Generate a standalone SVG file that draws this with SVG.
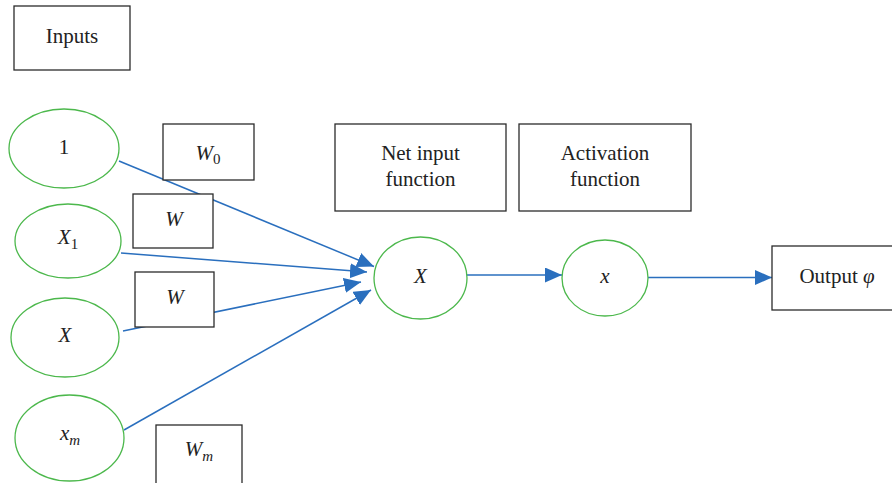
<svg xmlns="http://www.w3.org/2000/svg" width="892" height="483" viewBox="0 0 892 483">
  <style>
    .box { fill: #ffffff; stroke: #2b2b2b; stroke-width: 1.3; }
    .neuron { fill: #ffffff; stroke: #4cb84c; stroke-width: 1.3; }
    .edge { fill: none; stroke: #2a6fbe; stroke-width: 1.5; marker-end: url(#arrow); }
    text { font-family: "Liberation Serif", "Times New Roman", serif; font-size: 21px; fill: #222222; text-anchor: middle; }
    .it { font-style: italic; }
    .sub { font-size: 15px; }
  </style>
  <defs>
    <marker id="arrow" markerUnits="userSpaceOnUse" markerWidth="18" markerHeight="16" refX="17" refY="7.5" orient="auto">
      <path d="M0,0 L17,7.5 L0,15 z" fill="#2a6fbe"/>
    </marker>
  </defs>

  <!-- connectors (drawn first so that the weight boxes sit on top) -->
  <g id="connectors">
    <line class="edge" x1="119" y1="161" x2="374" y2="266.5"/>
    <line class="edge" x1="121" y1="253" x2="367" y2="272"/>
    <line class="edge" x1="123" y1="331" x2="361" y2="282"/>
    <line class="edge" x1="124" y1="430" x2="371" y2="290"/>
    <line class="edge" x1="467" y1="275" x2="562" y2="275"/>
    <line class="edge" x1="648" y1="277.5" x2="772" y2="277.5"/>
  </g>

  <g id="inputs-label">
    <rect class="box" x="14" y="6" width="116" height="64"/>
    <text x="72" y="43">Inputs</text>
  </g>

  <g id="input-1">
    <ellipse class="neuron" cx="64" cy="148.5" rx="55" ry="39.5"/>
    <text x="64" y="154">1</text>
  </g>
  <g id="input-x1">
    <ellipse class="neuron" cx="68" cy="241" rx="53" ry="37"/>
    <text x="68" y="244"><tspan class="it">X</tspan><tspan class="sub" dy="5">1</tspan></text>
  </g>
  <g id="input-x">
    <ellipse class="neuron" cx="65" cy="337.5" rx="54" ry="39.5"/>
    <text class="it" x="65" y="342">X</text>
  </g>
  <g id="input-xm">
    <ellipse class="neuron" cx="69.5" cy="438" rx="54.5" ry="43"/>
    <text class="it" x="70" y="440">x<tspan class="sub" dy="5">m</tspan></text>
  </g>

  <g id="weight-w0">
    <rect class="box" x="163" y="124" width="91" height="56"/>
    <text x="208" y="160"><tspan class="it">W</tspan><tspan class="sub" dy="4">0</tspan></text>
  </g>
  <g id="weight-w1">
    <rect class="box" x="133" y="194" width="80" height="54"/>
    <text class="it" x="174" y="226">W</text>
  </g>
  <g id="weight-w2">
    <rect class="box" x="135" y="272" width="79" height="55"/>
    <text class="it" x="175" y="304">W</text>
  </g>
  <g id="weight-wm">
    <rect class="box" x="156" y="425" width="86" height="70"/>
    <text class="it" x="199" y="456">W<tspan class="sub" dy="5">m</tspan></text>
  </g>

  <g id="net-input-label">
    <rect class="box" x="335" y="124" width="171" height="87"/>
    <text x="420.5" y="160">Net input</text>
    <text x="420.5" y="186">function</text>
  </g>
  <g id="activation-label">
    <rect class="box" x="519" y="124" width="172" height="87"/>
    <text x="605" y="160">Activation</text>
    <text x="605" y="186">function</text>
  </g>

  <g id="sum-node">
    <ellipse class="neuron" cx="420.5" cy="278" rx="46.5" ry="41"/>
    <text class="it" x="420.5" y="283">X</text>
  </g>
  <g id="activation-node">
    <ellipse class="neuron" cx="605" cy="278" rx="43" ry="38"/>
    <text class="it" x="605" y="283">x</text>
  </g>

  <g id="output">
    <rect class="box" x="772" y="246" width="130" height="64"/>
    <text x="837" y="283">Output <tspan class="it">φ</tspan></text>
  </g>
</svg>
